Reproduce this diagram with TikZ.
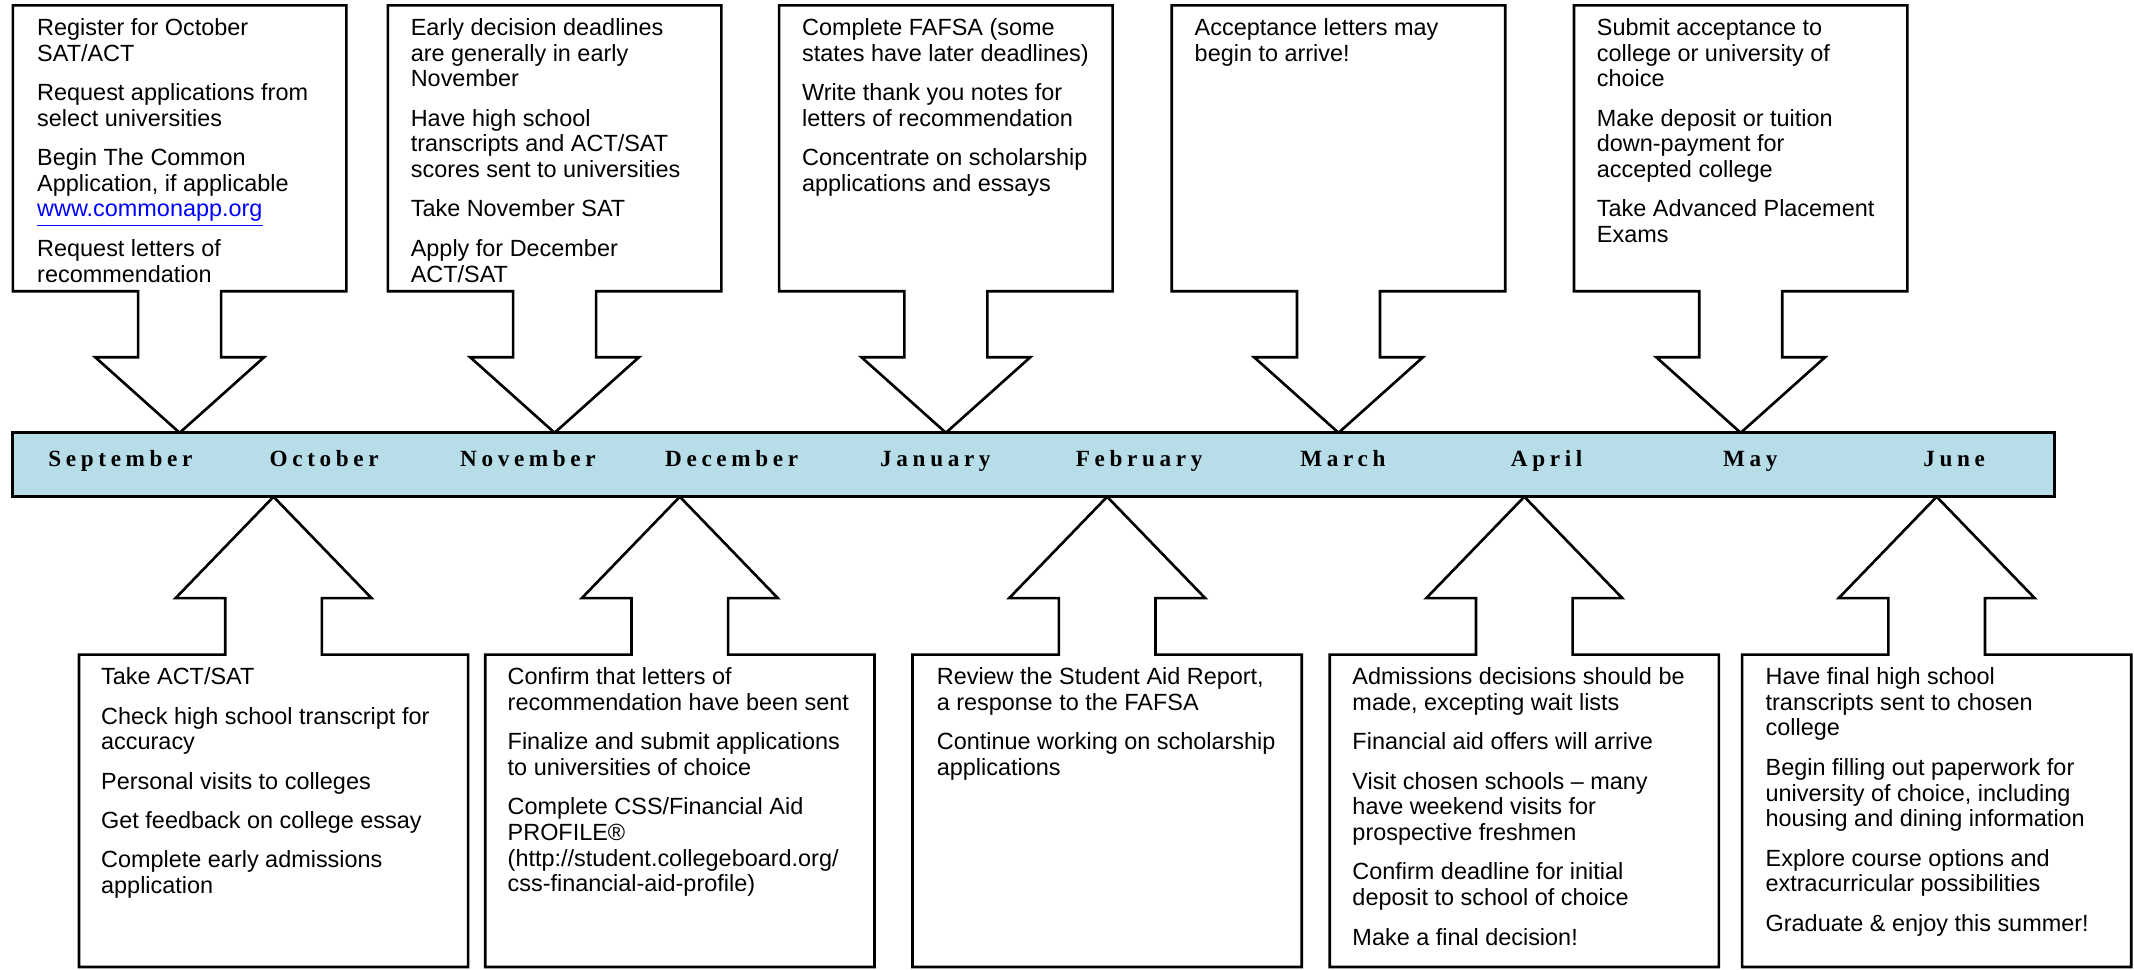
\documentclass[tikz,border=0pt]{standalone}
\usepackage{fontspec}
\setmainfont{Liberation Sans}
\newfontfamily\monthfont[LetterSpace=20]{Liberation Serif}
\definecolor{barblue}{HTML}{B7DDE8}
\definecolor{linkblue}{HTML}{0000FF}

\tikzset{
  callout/.style={draw=black, line width=1.1pt, fill=white, line join=miter},
  note/.style={anchor=north west, align=left, inner sep=0pt, yshift=9pt,
    font=\fontsize{9.8}{10.74}\selectfont, execute at begin node={\rule{0pt}{9pt}}},
  month/.style={anchor=base, inner sep=0pt, font=\monthfont\bfseries\fontsize{9.7}{11}\selectfont},
}

% box above the bar, arrow pointing down
\newcommand{\topcallout}[2]{%
  \draw[callout] ({#2-122.5},4) -- ({#2+122.5},4) -- ({#2+122.5},214) -- ({#2+30.5},214)
    -- ({#2+30.5},262.5) -- ({#2+62},262.5) -- (#2,318) -- ({#2-62},262.5)
    -- ({#2-30.5},262.5) -- ({#2-30.5},214) -- ({#2-122.5},214) -- cycle;
  \coordinate (#1) at ({#2-122.5},4);}
% box below the bar, arrow pointing up
\newcommand{\bottomcallout}[2]{%
  \draw[callout] ({#2-143},710.5) -- ({#2-143},481) -- ({#2-35.5},481) -- ({#2-35.5},439.5)
    -- ({#2-72},439.5) -- (#2,365) -- ({#2+72},439.5) -- ({#2+35.5},439.5)
    -- ({#2+35.5},481) -- ({#2+143},481) -- ({#2+143},710.5) -- cycle;
  \coordinate (#1) at ({#2-143},481);}

\begin{document}
\begin{tikzpicture}[x=0.02cm, y=-0.02cm]
\useasboundingbox (0,0) rectangle (1568,712);

% callouts
\topcallout{sep}{132}
\topcallout{nov}{407.5}
\topcallout{jan}{695}
\topcallout{mar}{983.5}
\topcallout{may}{1279}
\bottomcallout{oct}{201}
\bottomcallout{dec}{499.5}
\bottomcallout{feb}{813.5}
\bottomcallout{apr}{1120}
\bottomcallout{jun}{1423}

% timeline bar
\node[draw, line width=1.2pt, fill=barblue, minimum width=30.01cm, minimum height=0.94cm, inner sep=0pt] (bar) at (759.3,341.5) {};
\foreach \m [count=\i from 0] in {September,October,November,December,January,February,March,April,May,June}
  \node[month] (month\i) at ({88.5+149.7*\i},342.6) {\m};

% notes above
\node[note] (septext) at ([shift={(17.5,25)}]sep) {Register for October\\SAT/ACT\\[5.75pt]
  Request applications from\\select universities\\[5.75pt]
  Begin The Common\\Application, if applicable\\{\color{linkblue}\smash{\underline{www.commonapp.org}}}\\[5.75pt]
  Request letters of\\recommendation};
\node[note] (novtext) at ([shift={(16.5,25)}]nov) {Early decision deadlines\\are generally in early\\November\\[5.75pt]
  Have high school\\transcripts and ACT/SAT\\scores sent to universities\\[5.75pt]
  Take November SAT\\[5.75pt]
  Apply for December\\ACT/SAT};
\node[note] (jantext) at ([shift={(16.5,25)}]jan) {Complete FAFSA (some\\states have later deadlines)\\[5.75pt]
  Write thank you notes for\\letters of recommendation\\[5.75pt]
  Concentrate on scholarship\\applications and essays};
\node[note] (martext) at ([shift={(16.5,25)}]mar) {Acceptance letters may\\begin to arrive!};
\node[note] (maytext) at ([shift={(16.5,25)}]may) {Submit acceptance to\\college or university of\\choice\\[5.75pt]
  Make deposit or tuition\\down-payment for\\accepted college\\[5.75pt]
  Take Advanced Placement\\Exams};

% notes below
\node[note] (octtext) at ([shift={(16,25)}]oct) {Take ACT/SAT\\[5.75pt]
  Check high school transcript for\\accuracy\\[5.75pt]
  Personal visits to colleges\\[5.75pt]
  Get feedback on college essay\\[5.75pt]
  Complete early admissions\\application};
\node[note] (dectext) at ([shift={(16.2,25)}]dec) {Confirm that letters of\\recommendation have been sent\\[5.75pt]
  Finalize and submit applications\\to universities of choice\\[5.75pt]
  Complete CSS/Financial Aid\\PROFILE®\\(http://student.collegeboard.org/\\css-financial-aid-profile)};
\node[note] (febtext) at ([shift={(17.5,25)}]feb) {Review the Student Aid Report,\\a response to the FAFSA\\[5.75pt]
  Continue working on scholarship\\applications};
\node[note] (aprtext) at ([shift={(16.4,25)}]apr) {Admissions decisions should be\\made, excepting wait lists\\[5.75pt]
  Financial aid offers will arrive\\[5.75pt]
  Visit chosen schools -- many\\have weekend visits for\\prospective freshmen\\[5.75pt]
  Confirm deadline for initial\\deposit to school of choice\\[5.75pt]
  Make a final decision!};
\node[note] (juntext) at ([shift={(17,25)}]jun) {Have final high school\\transcripts sent to chosen\\college\\[5.75pt]
  Begin filling out paperwork for\\university of choice, including\\housing and dining information\\[5.75pt]
  Explore course options and\\extracurricular possibilities\\[5.75pt]
  Graduate \& enjoy this summer!};
\end{tikzpicture}
\end{document}
